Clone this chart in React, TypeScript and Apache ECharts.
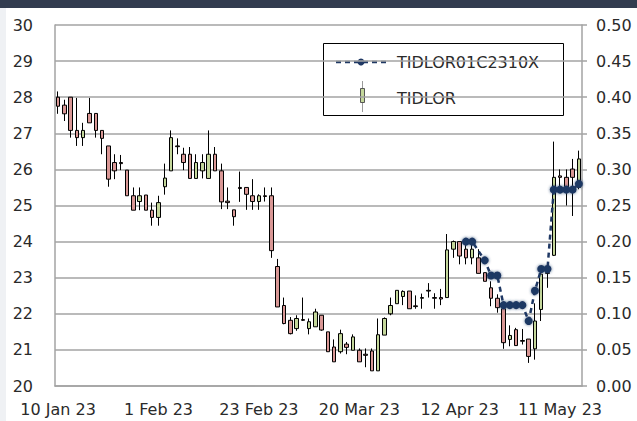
import React, { useEffect, useRef } from "react";
import * as echarts from "echarts";

const categories = [
  "10 Jan 23", "11 Jan 23", "12 Jan 23", "13 Jan 23", "16 Jan 23", "17 Jan 23", "18 Jan 23", "19 Jan 23",
  "20 Jan 23", "23 Jan 23", "24 Jan 23", "25 Jan 23", "26 Jan 23", "27 Jan 23", "30 Jan 23", "31 Jan 23",
  "1 Feb 23", "2 Feb 23", "3 Feb 23", "6 Feb 23", "7 Feb 23", "8 Feb 23", "9 Feb 23", "10 Feb 23",
  "13 Feb 23", "14 Feb 23", "15 Feb 23", "16 Feb 23", "17 Feb 23", "20 Feb 23", "21 Feb 23", "22 Feb 23",
  "23 Feb 23", "24 Feb 23", "27 Feb 23", "28 Feb 23", "1 Mar 23", "2 Mar 23", "3 Mar 23", "7 Mar 23",
  "8 Mar 23", "9 Mar 23", "10 Mar 23", "13 Mar 23", "14 Mar 23", "15 Mar 23", "16 Mar 23", "17 Mar 23",
  "20 Mar 23", "21 Mar 23", "22 Mar 23", "23 Mar 23", "24 Mar 23", "27 Mar 23", "28 Mar 23", "29 Mar 23",
  "30 Mar 23", "31 Mar 23", "3 Apr 23", "4 Apr 23", "5 Apr 23", "7 Apr 23", "10 Apr 23", "11 Apr 23",
  "12 Apr 23", "18 Apr 23", "19 Apr 23", "20 Apr 23", "21 Apr 23", "24 Apr 23", "25 Apr 23", "26 Apr 23",
  "27 Apr 23", "28 Apr 23", "2 May 23", "3 May 23", "5 May 23", "8 May 23", "9 May 23", "10 May 23",
  "11 May 23", "12 May 23", "15 May 23", "16 May 23",
];

const opens = [
  28.0, 27.78, 28.0, 27.08, 26.88, 27.55, 27.55, 27.08, 26.65, 26.19, 26.19, 25.98, 25.27, 25.11, 25.29, 24.87,
  24.67, 25.52, 25.96, 26.65, 26.42, 26.42, 25.75, 25.96, 25.75, 26.42, 25.96, 25.12, 24.88, 25.5, 25.5, 25.27,
  25.11, 25.27, 25.27, 23.31, 22.23, 21.82, 21.59, 21.84, 21.59, 21.64, 21.96, 21.5, 21.08, 20.95, 21.16, 20.99,
  20.99, 20.88, 20.97, 20.42, 21.41, 22.0, 22.28, 22.48, 22.63, 22.22, 22.43, 22.65, 22.45, 22.45, 22.45, 23.79,
  24.0, 23.79, 23.55, 23.55, 23.14, 22.72, 22.43, 22.14, 21.29, 21.56, 21.26, 21.3, 21.03, 22.12, 23.14, 23.62,
  25.82, 25.78, 26.01, 25.5,
];
const closes = [
  27.75, 27.54, 27.08, 26.88, 27.08, 27.29, 27.08, 26.86, 25.73, 25.96, 26.16, 25.27, 24.87, 25.27, 24.87, 24.67,
  25.08, 25.76, 26.88, 26.63, 26.19, 25.75, 26.19, 26.19, 26.42, 25.96, 25.1, 25.08, 24.69, 25.47, 25.31, 25.11,
  25.27, 25.25, 23.75, 22.19, 21.73, 21.45, 21.87, 21.82, 21.78, 22.05, 21.55, 20.95, 20.67, 21.45, 21.07, 21.36,
  20.67, 20.85, 20.42, 21.42, 21.87, 22.23, 22.65, 22.62, 22.14, 22.2, 22.45, 22.63, 22.43, 22.41, 23.77, 24.0,
  23.6, 23.55, 23.79, 23.12, 22.9, 22.43, 22.17, 21.2, 21.4, 21.12, 21.24, 20.82, 21.8, 23.1, 23.12, 25.78,
  25.78, 25.41, 25.78, 26.29,
];
const lows = [
  27.54, 27.34, 26.88, 26.65, 26.65, 27.29, 26.88, 26.42, 25.52, 25.73, 25.98, 25.27, 24.87, 24.87, 24.87, 24.44,
  24.44, 25.3, 25.96, 26.42, 25.98, 25.75, 25.75, 25.75, 25.75, 25.96, 24.9, 24.9, 24.44, 25.1, 24.88, 24.88,
  24.88, 25.11, 23.55, 22.19, 21.71, 21.43, 21.53, 21.8, 21.43, 21.64, 21.53, 20.95, 20.67, 20.9, 20.88, 20.99,
  20.67, 20.52, 20.42, 20.42, 21.41, 21.96, 22.28, 22.24, 22.14, 22.14, 22.14, 22.45, 22.14, 22.24, 22.45, 23.55,
  23.37, 23.37, 23.37, 23.12, 22.9, 22.21, 22.03, 21.03, 21.1, 21.12, 21.15, 20.64, 20.73, 21.8, 22.72, 23.6,
  25.5, 25.0, 24.71, 25.45,
];
const highs = [
  28.16, 27.93, 28.0, 27.98, 27.29, 27.98, 27.55, 27.08, 26.65, 26.42, 26.4, 25.98, 25.5, 25.5, 25.29, 25.08,
  25.27, 26.16, 27.08, 26.86, 26.6, 26.62, 26.42, 26.42, 27.08, 26.62, 26.16, 25.5, 24.88, 25.94, 25.5, 25.73,
  25.31, 25.5, 25.5, 23.52, 22.45, 21.91, 21.96, 22.45, 21.87, 22.14, 21.96, 21.5, 21.29, 21.56, 21.22, 21.43,
  21.04, 21.04, 21.04, 21.87, 21.9, 22.45, 22.65, 22.65, 22.63, 22.51, 22.56, 22.85, 22.57, 22.69, 24.21, 24.03,
  24.0, 23.97, 23.98, 23.79, 23.14, 22.9, 22.54, 22.3, 21.68, 21.61, 21.58, 21.3, 22.29, 23.14, 23.32, 26.77,
  26.0, 26.0, 26.29, 26.52,
];

// Warrant TIDLOR01C2310X, starting at category index 65 (18 Apr 23); null = no value that day
const warrantStartIndex = 65;
const warrantValues = [
  0.2, 0.2, null, 0.174, 0.153, 0.153, 0.112, 0.112, 0.112, 0.112, 0.09, 0.132, 0.162, 0.162, 0.272, 0.272,
  0.272, 0.272, 0.28,
];

const leftTicks = { min: 20, max: 30, interval: 1 };
const rightTicks = { min: 0, max: 0.5, interval: 0.05 };

const FONT = "DejaVu Sans";
const TEXT = "#2a2a2a";
const GRID = "#a3a3a3";
const UP = "#c4d79b";
const DOWN = "#d99795";
const NAVY = "#1f3864";

export default function App() {
  const ref = useRef<HTMLDivElement>(null);

  useEffect(() => {
    if (!ref.current) return;
    const chart = echarts.init(ref.current, undefined, { renderer: "svg" });

    const candleData = categories.map((_, i) => [opens[i], closes[i], lows[i], highs[i]]);
    const warrantData = categories.map((_, i) => {
      const j = i - warrantStartIndex;
      return j >= 0 && j < warrantValues.length ? warrantValues[j] : null;
    });

    chart.setOption({
      animation: false,
      backgroundColor: "#ffffff",
      textStyle: { fontFamily: FONT },
      grid: { left: 55, right: 55, top: 25, bottom: 35, containLabel: false },
      xAxis: {
        type: "category",
        data: categories,
        boundaryGap: true,
        axisLine: { show: true, lineStyle: { color: GRID, width: 1.5 } },
        axisTick: { show: false },
        axisLabel: {
          interval: 15,
          color: TEXT,
          fontFamily: FONT,
          fontSize: 16,
          margin: 15,
        },
        splitLine: { show: false },
      },
      yAxis: [
        {
          type: "value",
          min: leftTicks.min,
          max: leftTicks.max,
          interval: leftTicks.interval,
          position: "left",
          axisLine: { show: true, lineStyle: { color: GRID, width: 1.5 } },
          axisTick: { show: false },
          axisLabel: { color: TEXT, fontFamily: FONT, fontSize: 16, margin: 22 },
          splitLine: { show: true, lineStyle: { color: GRID, width: 1.5 } },
        },
        {
          type: "value",
          min: rightTicks.min,
          max: rightTicks.max,
          interval: rightTicks.interval,
          position: "right",
          axisLine: { show: true, lineStyle: { color: GRID, width: 1.5 } },
          axisTick: { show: true, inside: false, length: 5, lineStyle: { color: GRID, width: 1.5 } },
          axisLabel: {
            color: TEXT,
            fontFamily: FONT,
            fontSize: 16,
            margin: 14,
            formatter: (v: number) => v.toFixed(2),
          },
          splitLine: { show: false },
        },
      ],
      series: [
        {
          name: "TIDLOR",
          type: "candlestick",
          yAxisIndex: 0,
          data: candleData,
          barWidth: 4,
          itemStyle: {
            color: UP,
            color0: DOWN,
            borderColor: "#000000",
            borderColor0: "#000000",
            borderWidth: 1,
          },
        },
        {
          name: "TIDLOR01C2310X",
          type: "line",
          yAxisIndex: 1,
          data: warrantData,
          connectNulls: true,
          symbol: "circle",
          symbolSize: 8,
          showSymbol: true,
          showAllSymbol: true,
          itemStyle: { color: NAVY, shadowBlur: 3, shadowColor: "rgba(31,56,100,0.7)" },
          lineStyle: { color: NAVY, width: 2.5, type: [5, 4] },
          z: 5,
        },
      ],
      graphic: [
        { type: "rect", shape: { x: 0, y: 0, width: 637, height: 8 }, style: { fill: "#323c4f" }, z: 100 },
        { type: "rect", shape: { x: 0, y: 8, width: 6, height: 413 }, style: { fill: "#eff1f4" }, z: 100 },
        {
          type: "group",
          z: 100,
          children: [
            {
              type: "rect",
              shape: { x: 323.5, y: 43.5, width: 240, height: 72 },
              style: { fill: "#ffffff", stroke: "#000000", lineWidth: 1 },
            },
            {
              type: "line",
              shape: { x1: 336, y1: 62, x2: 388, y2: 62 },
              style: { stroke: NAVY, lineWidth: 2.5, lineDash: [5, 4] },
            },
            { type: "circle", shape: { cx: 361, cy: 62, r: 3.5 }, style: { fill: NAVY } },
            {
              type: "text",
              x: 397,
              y: 62,
              style: {
                text: "TIDLOR01C2310X",
                fill: TEXT,
                font: `16px "${FONT}"`,
                verticalAlign: "middle",
                align: "left",
              },
            },
            {
              type: "line",
              shape: { x1: 362.5, y1: 81, x2: 362.5, y2: 112 },
              style: { stroke: "#9a9a9a", lineWidth: 1 },
            },
            {
              type: "rect",
              shape: { x: 360.5, y: 88.5, width: 4, height: 14 },
              style: { fill: UP, stroke: "#555555", lineWidth: 1 },
            },
            {
              type: "text",
              x: 397,
              y: 98,
              style: {
                text: "TIDLOR",
                fill: TEXT,
                font: `16px "${FONT}"`,
                verticalAlign: "middle",
                align: "left",
              },
            },
          ],
        },
      ],
    });

    return () => chart.dispose();
  }, []);

  return (
    <div
      ref={ref}
      style={{ position: "fixed", left: 0, top: 0, width: 637, height: 421, background: "#fff" }}
    />
  );
}
